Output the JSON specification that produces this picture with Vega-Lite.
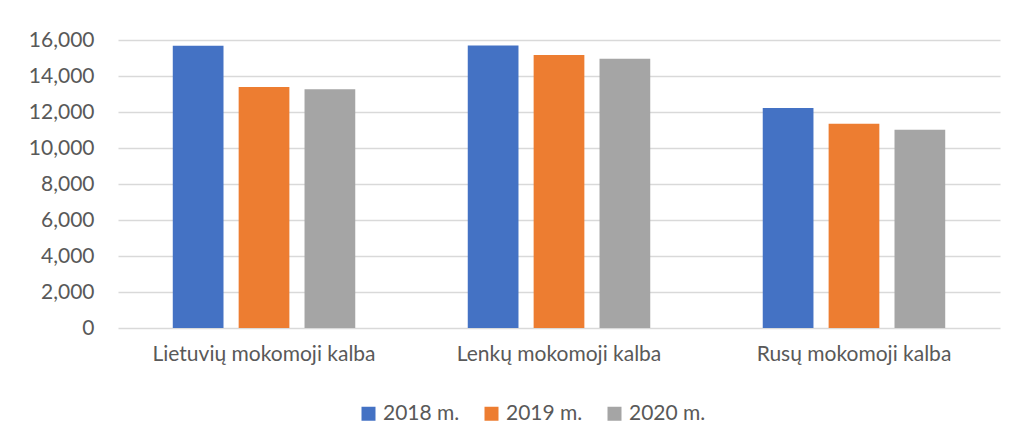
{
  "$schema": "https://vega.github.io/schema/vega-lite/v6.json",
  "width": 882,
  "height": 288,
  "autosize": {"type": "none"},
  "padding": {"left": 118, "top": 40, "right": 24, "bottom": 117},
  "background": "white",
  "config": {
    "view": {"stroke": null},
    "font": "Lato",
    "axis": {"labelFont": "Lato", "labelColor": "#595959", "labelFontSize": 21, "labelLimit": 0}
  },
  "data": {
    "values": [
      {"kalba": "Lietuvių mokomoji kalba", "metai": "2018 m.", "value": 15680},
      {"kalba": "Lietuvių mokomoji kalba", "metai": "2019 m.", "value": 13390},
      {"kalba": "Lietuvių mokomoji kalba", "metai": "2020 m.", "value": 13260},
      {"kalba": "Lenkų mokomoji kalba", "metai": "2018 m.", "value": 15700},
      {"kalba": "Lenkų mokomoji kalba", "metai": "2019 m.", "value": 15170},
      {"kalba": "Lenkų mokomoji kalba", "metai": "2020 m.", "value": 14960},
      {"kalba": "Rusų mokomoji kalba", "metai": "2018 m.", "value": 12220},
      {"kalba": "Rusų mokomoji kalba", "metai": "2019 m.", "value": 11350},
      {"kalba": "Rusų mokomoji kalba", "metai": "2020 m.", "value": 11020}
    ]
  },
  "mark": {"type": "bar"},
  "encoding": {
    "x": {
      "field": "kalba",
      "type": "nominal",
      "sort": null,
      "scale": {"paddingInner": 0.33, "paddingOuter": 0.16},
      "axis": {"title": null, "labelAngle": 0, "ticks": false, "domain": false, "labelPadding": 15}
    },
    "xOffset": {
      "field": "metai",
      "type": "nominal",
      "scale": {"paddingInner": 0.23, "paddingOuter": 0.115}
    },
    "y": {
      "field": "value",
      "type": "quantitative",
      "scale": {"domain": [0, 16000], "nice": false},
      "axis": {
        "title": null,
        "values": [0, 2000, 4000, 6000, 8000, 10000, 12000, 14000, 16000],
        "format": ",d",
        "ticks": false,
        "domain": false,
        "labelPadding": 24,
        "gridColor": "#d9d9d9",
        "gridWidth": 1.5
      }
    },
    "color": {
      "field": "metai",
      "type": "nominal",
      "scale": {"domain": ["2018 m.", "2019 m.", "2020 m."], "range": ["#4472C4", "#ED7D31", "#A5A5A5"]},
      "legend": {
        "title": null,
        "orient": "none",
        "legendX": 240,
        "legendY": 363,
        "direction": "horizontal",
        "symbolType": "square",
        "symbolSize": 196,
        "symbolStrokeWidth": 0,
        "labelFontSize": 21,
        "labelColor": "#595959",
        "labelFont": "Lato",
        "labelOffset": 4,
        "columnPadding": 21
      }
    }
  }
}
